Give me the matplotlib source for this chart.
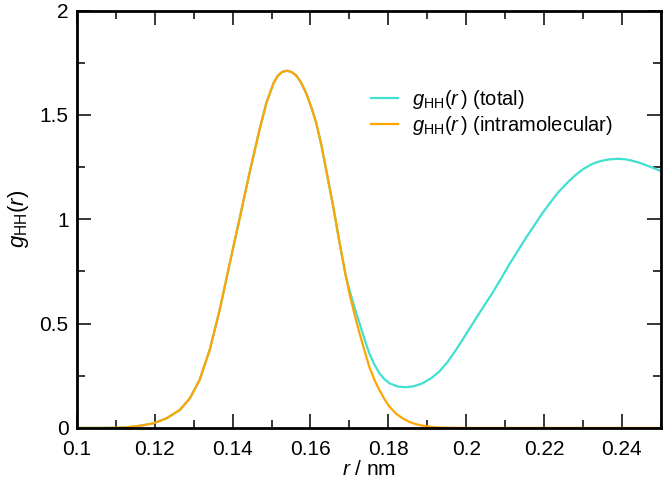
import matplotlib
matplotlib.use("Agg")
import matplotlib.pyplot as plt

plt.rcParams['font.family'] = ['Liberation Sans', 'DejaVu Sans']
plt.rcParams['mathtext.fontset'] = 'custom'
plt.rcParams['mathtext.rm'] = 'Liberation Sans'
plt.rcParams['mathtext.it'] = 'Liberation Sans:italic'

# values
r_peak = [0.100, 0.105, 0.110, 0.1127, 0.1160, 0.1196, 0.1230, 0.1264, 0.1290, 0.1315,
          0.1341, 0.1367, 0.1392, 0.1418, 0.1444, 0.1469, 0.1487, 0.1505, 0.1516,
          0.1527, 0.1539, 0.1551, 0.1563, 0.1576, 0.1589, 0.1602, 0.1615, 0.1628,
          0.1640, 0.1658, 0.1674, 0.1690]
g_peak = [0.0, 0.0, 0.001, 0.003, 0.010, 0.022, 0.046, 0.086, 0.142, 0.230,
          0.374, 0.568, 0.785, 1.005, 1.228, 1.430, 1.560, 1.652, 1.688,
          1.706, 1.712, 1.706, 1.690, 1.655, 1.604, 1.538, 1.460, 1.355,
          1.240, 1.065, 0.895, 0.735]

# intramolecular tail
r_intra_tail = [0.1700, 0.1713, 0.1726, 0.1739, 0.1751, 0.1764, 0.1777, 0.1790, 0.1803,
                0.1820, 0.1837, 0.1854, 0.1871, 0.1888, 0.1905, 0.1922, 0.1939, 0.1970,
                0.2000, 0.2100, 0.2500]
g_intra_tail = [0.645, 0.545, 0.454, 0.370, 0.294, 0.232, 0.182, 0.138, 0.102,
                0.068, 0.046, 0.029, 0.018, 0.011, 0.006, 0.003, 0.0015, 0.0005,
                0.0, 0.0, 0.0]

# total g(r) beyond the first peak
r_total_tail = [0.1700, 0.1713, 0.1726, 0.1739, 0.1751, 0.1764, 0.1777, 0.1790, 0.1803,
                0.1825, 0.1845, 0.1866, 0.1888, 0.1910, 0.1931, 0.1953, 0.1974, 0.2000,
                0.2025, 0.2046, 0.2067, 0.2089, 0.2110, 0.2132, 0.2153, 0.2175, 0.2196,
                0.2217, 0.2238, 0.2260, 0.2281, 0.2302, 0.2324, 0.2345, 0.2367, 0.2392,
                0.2410, 0.2426, 0.2444, 0.2461, 0.2480, 0.2500]
g_total_tail = [0.662, 0.578, 0.502, 0.425, 0.358, 0.305, 0.262, 0.234, 0.214,
                0.198, 0.195, 0.200, 0.214, 0.238, 0.270, 0.318, 0.374, 0.450,
                0.524, 0.585, 0.645, 0.713, 0.781, 0.846, 0.909, 0.970, 1.029,
                1.082, 1.132, 1.175, 1.212, 1.242, 1.265, 1.279, 1.287, 1.290,
                1.287, 1.281, 1.272, 1.260, 1.247, 1.231]

r_intra = r_peak + r_intra_tail
g_intra = g_peak + g_intra_tail
r_total = r_peak + r_total_tail
g_total = g_peak + g_total_tail

fig = plt.figure(figsize=(6.64, 4.83), dpi=100)
ax = fig.add_axes([0.116, 0.114, 0.879, 0.864])

ax.plot(r_total, g_total, color='#40E0D0', lw=1.6,
        label=r'$g_{\mathrm{HH}}(r\,)$ (total)')
ax.plot(r_intra, g_intra, color='#FFA500', lw=1.6,
        label=r'$g_{\mathrm{HH}}(r\,)$ (intramolecular)')

ax.set_xlim(0.1, 0.25)
ax.set_ylim(0, 2)
ax.set_xticks([0.1, 0.12, 0.14, 0.16, 0.18, 0.2, 0.22, 0.24])
ax.set_xticklabels(['0.1', '0.12', '0.14', '0.16', '0.18', '0.2', '0.22', '0.24'])
ax.set_xticks([0.11, 0.13, 0.15, 0.17, 0.19, 0.21, 0.23, 0.25], minor=True)
ax.set_yticks([0, 0.5, 1, 1.5, 2])
ax.set_yticklabels(['0', '0.5', '1', '1.5', '2'])
ax.set_yticks([0.25, 0.75, 1.25, 1.75], minor=True)
ax.tick_params(which='both', direction='in', top=True, right=True, labelsize=15, width=1.1)
ax.tick_params(which='major', length=10)
ax.tick_params(which='minor', length=5.5)
ax.tick_params(axis='x', which='major', pad=8.5)
ax.tick_params(axis='y', which='major', pad=6)
for s in ax.spines.values():
    s.set_linewidth(2)

ax.set_xlabel(r'$r$ / nm', fontsize=15, labelpad=1)
ax.set_ylabel(r'$g_{\mathrm{HH}}(r)$', fontsize=16, labelpad=6)

ax.legend(loc='upper left', bbox_to_anchor=(0.472, 0.858), frameon=False, fontsize=14.5,
          handlelength=1.34, handletextpad=0.7, labelspacing=0.15)

fig.savefig('out.png', dpi=100)
